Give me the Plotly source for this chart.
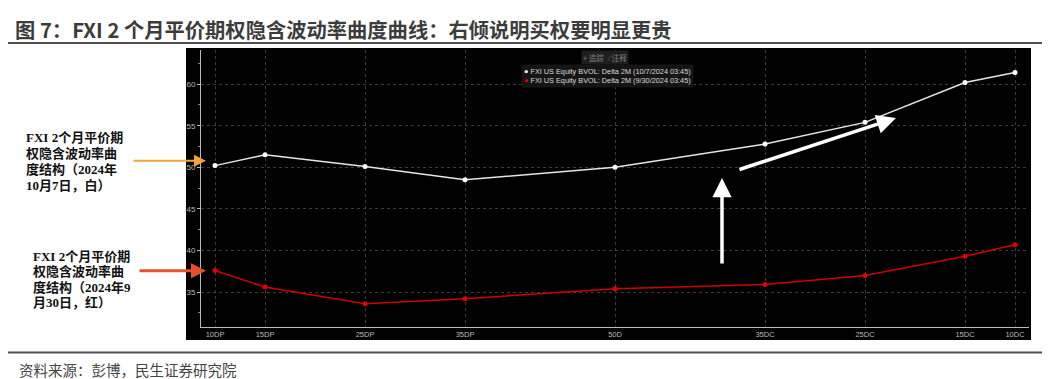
import plotly.graph_objects as go

# ---- data ----
strike_labels = ["10DP", "15DP", "25DP", "35DP", "50D", "35DC", "25DC", "15DC", "10DC"]
strike_pos = [10, 15, 25, 35, 50, 65, 75, 85, 90]  # delta-based axis positions
vol_oct7 = [50.2, 51.5, 50.1, 48.5, 50.0, 52.8, 55.4, 60.2, 61.4]
vol_sep30 = [37.6, 35.6, 33.6, 34.2, 35.4, 35.9, 37.0, 39.3, 40.7]
name_oct7 = "FXI US Equity BVOL: Delta 2M (10/7/2024 03:45)"
name_sep30 = "FXI US Equity BVOL: Delta 2M (9/30/2024 03:45)"
y_ticks = [35, 40, 45, 50, 55, 60]

W, H = 1051, 379
def px(x):
    return x / W
def py(y):
    return (H - y) / H

fig = go.Figure()
fig.add_trace(go.Scatter(x=strike_pos, y=vol_oct7, mode="lines+markers", name=name_oct7,
                         line=dict(color="#e6e6e6", width=1.5), marker=dict(size=5, color="#ffffff")))
fig.add_trace(go.Scatter(x=strike_pos, y=vol_sep30, mode="lines+markers", name=name_sep30,
                         line=dict(color="#d00000", width=1.5), marker=dict(size=5, color="#e00000")))

shapes = [
    dict(type="rect", xref="paper", yref="paper", x0=px(186), x1=px(1031), y0=py(340), y1=py(48),
         fillcolor="#000000", line=dict(width=0), layer="below"),
    dict(type="line", xref="paper", yref="paper", x0=px(8), x1=px(1042), y0=py(43), y1=py(43),
         line=dict(color="#505050", width=2)),
    dict(type="line", xref="paper", yref="paper", x0=px(8), x1=px(1042), y0=py(352.5), y1=py(352.5),
         line=dict(color="#505050", width=2)),
]

annotations = [
    dict(text="<b>图 7：FXI 2 个月平价期权隐含波动率曲度曲线：右倾说明买权要明显更贵</b>",
         xref="paper", yref="paper", x=px(13), y=py(29), xanchor="left", yanchor="middle", showarrow=False,
         font=dict(family="Noto Sans CJK SC", size=20.3, color="#3c3c3c")),
    dict(text="资料来源：彭博，民生证券研究院", xref="paper", yref="paper", x=px(17), y=py(369),
         xanchor="left", yanchor="middle", showarrow=False,
         font=dict(family="Noto Sans CJK SC", size=14.5, color="#444444")),
    # toolbar
    dict(text="+ 追踪   ⁄ 注释", xref="paper", yref="paper", x=px(605), y=py(57), xanchor="center",
         yanchor="middle", showarrow=False, bgcolor="#1e1e1e", borderpad=1,
         font=dict(family="Noto Sans CJK SC", size=7.5, color="#808080")),
    # legend
    dict(text=("<span style='color:#ffffff'>●</span> " + name_oct7 + "<br>"
               "<span style='color:#e00000'>●</span> " + name_sep30),
         xref="paper", yref="paper", x=px(521), y=py(76), xanchor="left", yanchor="middle",
         align="left", showarrow=False, bgcolor="#151515", borderpad=2,
         font=dict(family="Liberation Sans", size=7.3, color="#dcdcdc")),
]

left_white = ["FXI 2个月平价期", "权隐含波动率曲", "度结构（2024年", "10月7日，白）"]
left_red = ["FXI 2个月平价期", "权隐含波动率曲", "度结构（2024年9", "月30日，红）"]
for i, t in enumerate(left_white):
    annotations.append(dict(text="<b>" + t + "</b>", xref="paper", yref="paper", x=px(24),
                            y=py(137 + i * 16.1), xanchor="left", yanchor="middle", showarrow=False,
                            font=dict(family="Liberation Serif, Noto Sans CJK SC", size=13, color="#111111")))
for i, t in enumerate(left_red):
    annotations.append(dict(text="<b>" + t + "</b>", xref="paper", yref="paper", x=px(31),
                            y=py(256 + i * 15.6), xanchor="left", yanchor="middle", showarrow=False,
                            font=dict(family="Liberation Serif, Noto Sans CJK SC", size=13, color="#111111")))

# arrows
annotations += [
    dict(text="", xref="paper", yref="paper", x=px(206), y=py(160.7), ax=-74, ay=0,
         showarrow=True, arrowhead=2, arrowsize=1.2, arrowwidth=2, arrowcolor="#f4a23c"),
    dict(text="", xref="paper", yref="paper", x=px(206), y=py(270.7), ax=-68, ay=0,
         showarrow=True, arrowhead=2, arrowsize=1, arrowwidth=3, arrowcolor="#e8512c"),
    dict(text="", xref="paper", yref="paper", x=px(722), y=py(178), ax=0, ay=87,
         showarrow=True, arrowhead=2, arrowsize=1.1, arrowwidth=3.5, arrowcolor="#ffffff"),
    dict(text="", xref="paper", yref="paper", x=px(896), y=py(118), ax=-158, ay=52,
         showarrow=True, arrowhead=2, arrowsize=1.1, arrowwidth=3.5, arrowcolor="#ffffff"),
]

fig.update_layout(
    width=W, height=H, margin=dict(l=0, r=0, t=0, b=0),
    paper_bgcolor="#ffffff", plot_bgcolor="#000000", showlegend=False,
    shapes=shapes, annotations=annotations,
    xaxis=dict(domain=[px(201), px(1029)], range=[8.6, 91.4], tickvals=strike_pos, ticktext=strike_labels,
               showline=True, linecolor="#bbbbbb", linewidth=1, ticks="", zeroline=False,
               showgrid=True, gridcolor="#3c3c3c", griddash="dot", gridwidth=1,
               tickfont=dict(family="Liberation Sans", size=7.5, color="#bbbbbb")),
    yaxis=dict(domain=[py(327), py(50)], range=[30.8, 64.1], tickvals=y_ticks,
               showline=True, linecolor="#bbbbbb", linewidth=1, ticks="outside", ticklen=3,
               tickcolor="#bbbbbb", zeroline=False,
               minor=dict(ticks="outside", dtick=2.5, tick0=0, ticklen=2, tickcolor="#888888", showgrid=False),
               showgrid=True, gridcolor="#3c3c3c", griddash="dot", gridwidth=1,
               tickfont=dict(family="Liberation Sans", size=8, color="#bbbbbb")),
)

fig.write_html("out.html", config={"displayModeBar": False},
               post_script="document.body.style.margin='0px';document.body.style.overflow='hidden';")
